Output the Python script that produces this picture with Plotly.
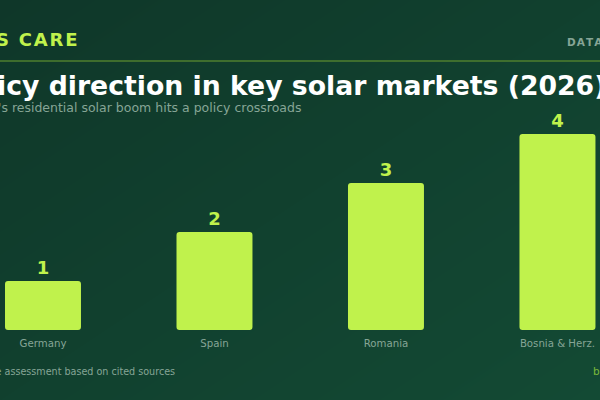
import plotly.graph_objects as go

categories = ['Germany', 'Spain', 'Romania', 'Bosnia & Herz.']
scores = [1, 2, 3, 4]
bg_levels = [[0, 1], [1, 2]]

LIME = '#c0f24c'
FONT = 'DejaVu Sans'
HAIR = '\u200a'

fig = go.Figure()

# diagonal background, sits on the first axes so the bars draw over it
fig.add_trace(go.Heatmap(
    z=bg_levels,
    x=[0, 1],
    y=[1, 0],
    zsmooth='best',
    showscale=False,
    hoverinfo='skip',
    colorscale=[[0, '#0f3729'], [1, '#134a34']],
    xaxis='x',
    yaxis='y'
))

# an explicit base makes plotly round both ends of the bar
fig.add_trace(go.Bar(
    x=categories,
    y=scores,
    base=0,
    width=0.443,
    marker_color=LIME,
    marker_line_width=0,
    text=scores,
    textposition='outside',
    cliponaxis=False,
    textfont=dict(family=FONT, size=18, color=LIME, weight='bold'),
    xaxis='x2',
    yaxis='y2'
))


def add_text(text, x, y, size, color, bold=False):
    # x and y given in page pixels, y is the text middle
    fig.add_annotation(
        text=text,
        x=x / 600,
        y=1 - y / 400,
        xref='paper',
        yref='paper',
        xanchor='left',
        yanchor='middle',
        showarrow=False,
        font=dict(family=FONT, size=size, color=color, weight='bold' if bold else 'normal')
    )


add_text(HAIR.join('S CARE'), -6, 39, 18, LIME, True)
add_text(HAIR.join('DATA'), 565, 42, 10.5, '#86a596', True)
add_text('Policy direction in key solar markets (2026)', -51.6, 86, 26.7, '#ffffff', True)
add_text("Europe's residential solar boom hits a policy crossroads", -48, 107, 12.5, '#86a596')
add_text('Qualitative assessment based on cited sources', -53, 371, 9.6, '#86a596')
add_text('b', 591, 371, 10.5, '#7ab83a')

fig.add_shape(type='line', xref='paper', yref='paper', x0=0, x1=1, y0=1 - 61 / 400, y1=1 - 61 / 400,
              line=dict(color='#4f7f2f', width=1.5))

fig.update_layout(
    width=600,
    height=400,
    margin=dict(l=0, r=0, t=0, b=0),
    showlegend=False,
    barcornerradius=3,
    paper_bgcolor='#113f2e',
    plot_bgcolor='rgba(0,0,0,0)',
    xaxis=dict(domain=[0, 1], range=[0, 1], visible=False),
    yaxis=dict(domain=[0, 1], range=[0, 1], visible=False),
    xaxis2=dict(
        domain=[0, 1],
        anchor='y2',
        type='category',
        range=[-0.2507, 3.248],
        showgrid=False,
        zeroline=False,
        showline=False,
        ticks='',
        ticklabelstandoff=6,
        tickfont=dict(family=FONT, size=10.2, color='#86a596')
    ),
    yaxis2=dict(
        domain=[70 / 400, 300 / 400],
        anchor='x2',
        range=[0, 4.694],
        visible=False
    )
)

# browser default body margin would push the chart off the page
fig.write_html('out.html', config={'displayModeBar': False},
               post_script="document.body.style.margin='0';document.body.style.overflow='hidden';")
